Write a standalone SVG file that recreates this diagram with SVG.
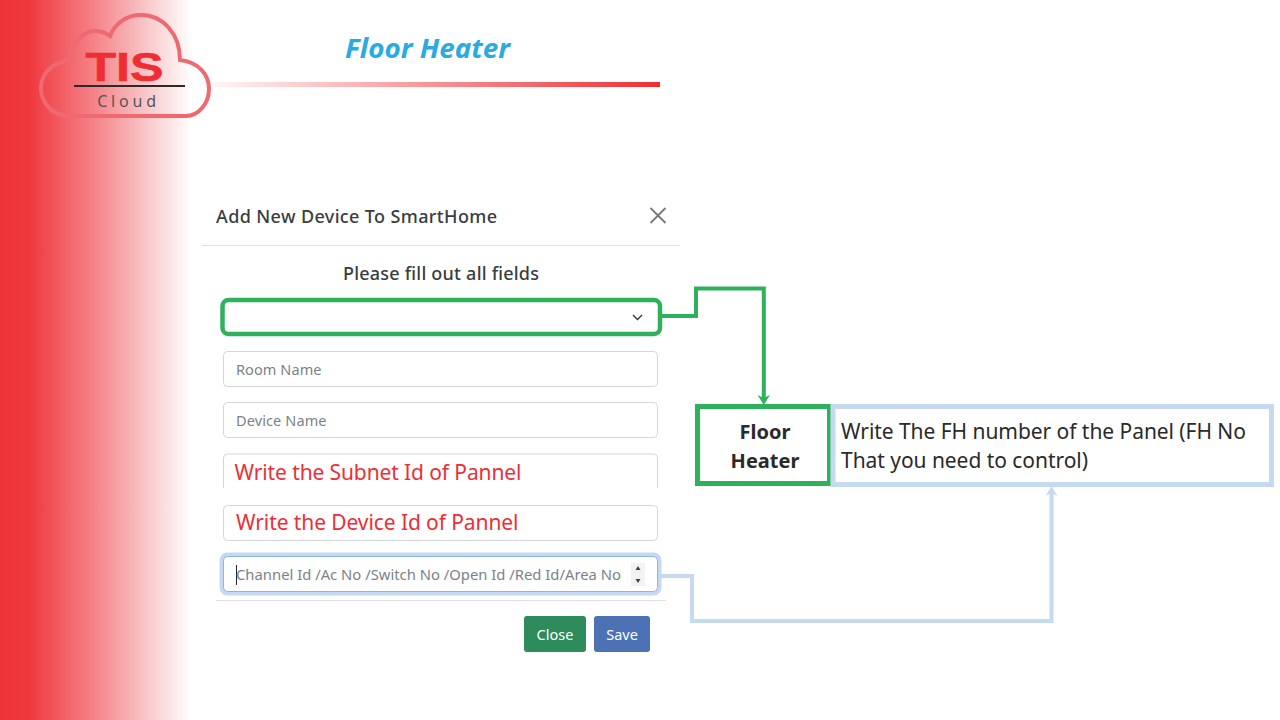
<svg xmlns="http://www.w3.org/2000/svg" width="1280" height="720" viewBox="0 0 1280 720">
<style>
text{font-family:"Noto Sans","Open Sans","Liberation Sans",sans-serif}
.field{fill:#fff;stroke:#d4d6d9;stroke-width:1}
.ph{font-size:14.5px;fill:#7b828a}
.red{font-size:21px;fill:#ee2e34}
.btn{font-size:14.5px;fill:#fff;text-anchor:middle}
.lbl{font-size:21px;fill:#2a2a2a}
.bold{font-size:20px;font-weight:700;fill:#2a2a2a;text-anchor:middle}
.g{fill:none;stroke:#2db25b;stroke-width:4}
.b{fill:none;stroke:#c5d9f1;stroke-width:4}
</style>
<defs>
<linearGradient id="side" x1="0" x2="1" y1="0" y2="0">
<stop offset="0" stop-color="#ee3338"/><stop offset="0.15" stop-color="#ef383d"/><stop offset="0.5" stop-color="#f4858a"/><stop offset="0.8" stop-color="#fad0d2"/><stop offset="1" stop-color="#fff"/>
</linearGradient>
<linearGradient id="rule" x1="0" x2="1" y1="0" y2="0">
<stop offset="0" stop-color="#fff"/><stop offset="1" stop-color="#ee2e34"/>
</linearGradient>
</defs>
<rect width="1280" height="720" fill="#fff"/>
<rect id="sidebar" x="0" y="0" width="192" height="720" fill="url(#side)"/>
<rect id="rule-line" x="190" y="82" width="470" height="5" fill="url(#rule)"/>
<g id="logo">
<path d="M67 116 C50 114 41 101 41 88 C41 74 52 62 71 60 C72 44 82 31 95 31 C101 31 106 33 110 36 C115 23 127 15 141 15 C163 15 180 34 180 60 C198 62 209 74 209 89 C209 104 198 116 186 116 Z" fill="none" stroke="#ee6a70" stroke-width="4"/>
<text x="124.500" y="81" font-size="40" font-weight="700" fill="#ee2e34" stroke="#ee2e34" stroke-width="0.600" text-anchor="middle" textLength="78" lengthAdjust="spacingAndGlyphs" style="font-family:'Liberation Sans',sans-serif">TIS</text>
<rect x="74" y="85" width="111" height="2" fill="#2b2b2b"/>
<text x="128.500" y="107" font-size="16" fill="#555" text-anchor="middle" letter-spacing="3.800">Cloud</text>
</g>
<text id="title" x="427.500" y="58" font-size="27.500" font-weight="700" font-style="italic" fill="#29abe2" text-anchor="middle" textLength="165" lengthAdjust="spacingAndGlyphs">Floor Heater</text>
<g id="dialog">
<text x="216" y="223" font-size="18" font-weight="500" fill="#3a3d40" textLength="281">Add New Device To SmartHome</text>
<path d="M650.500 208 L665.500 223 M665.500 208 L650.500 223" stroke="#777" stroke-width="1.800" fill="none"/>
<rect x="202" y="245" width="478" height="1" fill="#dee2e6"/>
<text x="343" y="280" font-size="18" font-weight="500" fill="#3a3d40" textLength="196">Please fill out all fields</text>
</g>
<g id="field-type">
<rect x="222.500" y="300" width="437.500" height="34" rx="6" fill="#fff" stroke="#2db25b" stroke-width="4.500"/>
<path d="M633 315 L637.500 319.500 L642 315" fill="none" stroke="#333" stroke-width="1.300"/>
</g>
<g id="field-room"><rect class="field" x="223.500" y="351.500" width="434" height="35" rx="4"/><text class="ph" x="236" y="374.500" textLength="85.500">Room Name</text></g>
<g id="field-device"><rect class="field" x="223.500" y="402.500" width="434" height="35" rx="4"/><text class="ph" x="236" y="426" textLength="90.500">Device Name</text></g>
<g id="field-subnet"><path class="field" d="M223.500 488 V458 a4 4 0 0 1 4-4 H653.500 a4 4 0 0 1 4 4 V488"/><text class="red" x="234.500" y="480" textLength="287">Write the Subnet Id of Pannel</text></g>
<g id="field-deviceid"><rect class="field" x="223.500" y="505.500" width="434" height="35" rx="4"/><text class="red" x="236" y="530" textLength="282.500">Write the Device Id of Pannel</text></g>
<g id="field-channel">
<rect x="223.500" y="556.500" width="434" height="35" rx="4" fill="#fff" stroke="#c5d9f1" stroke-width="8"/>
<rect x="223.500" y="556.500" width="434" height="35" rx="4" fill="#fff" stroke="#8fb3e3" stroke-width="1"/>
<rect x="236" y="565" width="1" height="20" fill="#222"/>
<text class="ph" x="236" y="580" textLength="385" lengthAdjust="spacingAndGlyphs">Channel Id /Ac No /Switch No /Open Id /Red Id/Area No</text>
<rect x="631" y="563" width="14" height="23" fill="#f3f3f3"/>
<path d="M635.500 570 L638 566 L640.500 570Z M635.500 579 L638 583 L640.500 579Z" fill="#444"/>
</g>
<rect id="footer-rule" x="216" y="600" width="450" height="1" fill="#dee2e6"/>
<g id="btn-close"><rect x="524" y="616" width="62" height="36" rx="3" fill="#2e8b5b"/><text class="btn" x="555" y="640">Close</text></g>
<g id="btn-save"><rect x="594" y="616" width="56" height="36" rx="3" fill="#4c72b5"/><text class="btn" x="622" y="640">Save</text></g>
<g id="connectors">
<path class="g" d="M661 316 H696 V288.500 H763.800 V400"/>
<path d="M757.500 395 L763.800 398 L770 395 L763.800 405Z" fill="#2db25b"/>
<path class="b" d="M660 576 H692 V621 H1051.500 V492"/>
<path d="M1045.500 496 L1051.500 486 L1057.500 496 L1051.500 493Z" fill="#c5d9f1"/>
</g>
<g id="node-heater">
<rect x="697.500" y="406.500" width="132" height="77" fill="#fff" stroke="#2db25b" stroke-width="5"/>
<text class="bold" x="765" y="439">Floor</text>
<text class="bold" x="765" y="468">Heater</text>
</g>
<g id="node-note">
<rect x="833" y="406.500" width="438.500" height="78" fill="#fff" stroke="#c5d9f1" stroke-width="5"/>
<text class="lbl" x="841" y="439" textLength="405">Write The FH number of the Panel (FH No</text>
<text class="lbl" x="841" y="468" textLength="247">That you need to control)</text>
</g>
</svg>
